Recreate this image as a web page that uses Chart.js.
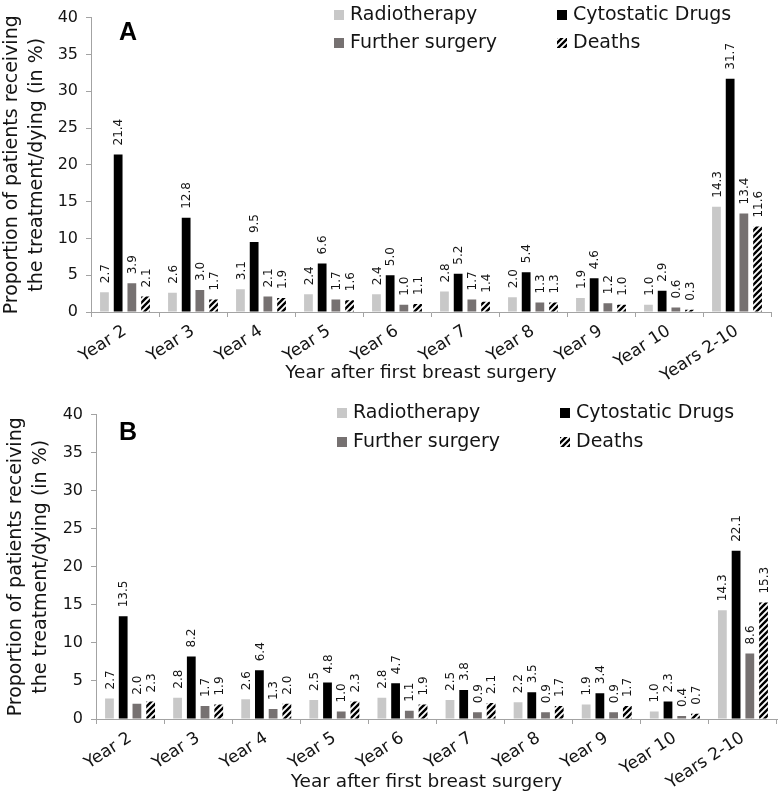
<!DOCTYPE html>
<html>
<head>
<meta charset="utf-8">
<script src="https://cdn.jsdelivr.net/npm/chart.js@4/dist/chart.umd.min.js"></script>
<style>
  html,body{margin:0;padding:0;background:#fff;}
  #wrap{position:relative;width:780px;height:794px;overflow:hidden;}
  .panel{position:absolute;left:0;width:780px;height:397px;}
</style>
</head>
<body>
<div id="wrap">
  <div class="panel" style="top:0"><canvas id="cA" width="780" height="397"></canvas></div>
  <div class="panel" style="top:397px"><canvas id="cB" width="780" height="397"></canvas></div>
</div>
<script>
// ---- data ----
const categories = ["Year 2","Year 3","Year 4","Year 5","Year 6","Year 7","Year 8","Year 9","Year 10","Years 2-10"];
const seriesNames = ["Radiotherapy","Cytostatic Drugs","Further surgery","Deaths"];

const radiotherapyA = [2.7, 2.6, 3.1, 2.4, 2.4, 2.8, 2.0, 1.9, 1.0, 14.3];
const cytostaticA   = [21.4, 12.8, 9.5, 6.6, 5.0, 5.2, 5.4, 4.6, 2.9, 31.7];
const surgeryA      = [3.9, 3.0, 2.1, 1.7, 1.0, 1.7, 1.3, 1.2, 0.6, 13.4];
const deathsA       = [2.1, 1.7, 1.9, 1.6, 1.1, 1.4, 1.3, 1.0, 0.3, 11.6];

const radiotherapyB = [2.7, 2.8, 2.6, 2.5, 2.8, 2.5, 2.2, 1.9, 1.0, 14.3];
const cytostaticB   = [13.5, 8.2, 6.4, 4.8, 4.7, 3.8, 3.5, 3.4, 2.3, 22.1];
const surgeryB      = [2.0, 1.7, 1.3, 1.0, 1.1, 0.9, 0.9, 0.9, 0.4, 8.6];
const deathsB       = [2.3, 1.9, 2.0, 2.3, 1.9, 2.1, 1.7, 1.7, 0.7, 15.3];

const yMin = 0, yMax = 40, yStep = 5;
const yTitle = ["Proportion of patients receiving", "the treatment/dying (in %)"];
const xTitle = "Year after first breast surgery";

// ---- styles ----
const FONT = '"DejaVu Sans", sans-serif';
const TXT = '#141414';
const AXIS = '#a3a3a3';
const COL_RADIO = '#c8c8c8';
const COL_CYTO = '#000000';
const COL_SURG = '#767171';

function hatchPattern(ctx){
  const c = document.createElement('canvas');
  c.width = 6; c.height = 6;
  const g = c.getContext('2d');
  g.fillStyle = '#fff'; g.fillRect(0,0,6,6);
  g.strokeStyle = '#000'; g.lineWidth = 2.4;
  g.beginPath();
  g.moveTo(-1,7); g.lineTo(7,-1);
  g.moveTo(-4,4); g.lineTo(4,-4);
  g.moveTo(2,10); g.lineTo(10,2);
  g.stroke();
  return ctx.createPattern(c,'repeat');
}

const valueLabels = {
  id:'valueLabels',
  afterDatasetsDraw(chart){
    const ctx = chart.ctx;
    ctx.save();
    ctx.font = '12px ' + FONT;
    ctx.fillStyle = TXT;
    chart.data.datasets.forEach((ds,i)=>{
      chart.getDatasetMeta(i).data.forEach((bar,j)=>{
        ctx.save();
        ctx.translate(bar.x + 1, bar.y - 9);
        ctx.rotate(-Math.PI/2);
        ctx.textAlign = 'left';
        ctx.textBaseline = 'middle';
        ctx.fillText(ds.data[j].toFixed(1), 0, 0);
        ctx.restore();
      });
    });
    ctx.restore();
  }
};

const gridLegend = {
  id:'gridLegend',
  afterDraw(chart, args, o){
    const ctx = chart.ctx;
    const ca = chart.chartArea;
    ctx.save();
    ctx.font = '19px ' + FONT;
    ctx.textBaseline = 'middle';
    ctx.textAlign = 'left';
    chart.data.datasets.forEach((ds,i)=>{
      const x = o.xs[i%2], y = o.ys[Math.floor(i/2)];
      ctx.fillStyle = ds.backgroundColor;
      ctx.fillRect(x, y-5, 10, 10);
      ctx.fillStyle = TXT;
      ctx.fillText(ds.label, x + o.gap, y);
    });
    // x axis title
    ctx.font = '18.5px ' + FONT;
    ctx.textAlign = 'center';
    ctx.fillText(o.xTitle, (ca.left + ca.right)/2 + o.xTitleDx, o.xTitleY);
    // panel letter
    ctx.font = 'bold 25px "Liberation Sans", Arial, sans-serif';
    ctx.fillStyle = '#000';
    ctx.fillText(o.letter, o.letterX, o.letterY);
    ctx.restore();
  }
};

function makeChart(id, data, geo){
  const canvas = document.getElementById(id);
  const ctx = canvas.getContext('2d');
  const hatch = hatchPattern(ctx);
  const colors = [COL_RADIO, COL_CYTO, COL_SURG, hatch];
  return new Chart(ctx, {
    type:'bar',
    data:{
      labels: categories,
      datasets: seriesNames.map((name,i)=>({
        label: name,
        data: data[i],
        backgroundColor: colors[i],
        borderWidth: 0,
        categoryPercentage: 0.806,
        barPercentage: 0.64
      }))
    },
    plugins:[valueLabels, gridLegend],
    options:{
      responsive:false,
      animation:false,
      devicePixelRatio:1,
      layout:{padding:{left:0, top:geo.top, right:780-geo.right, bottom:0}},
      plugins:{
        legend:{display:false},
        tooltip:{enabled:false},
        gridLegend:{xs:geo.legXs, ys:geo.legYs, gap:16, letter:geo.letter, letterX:128, letterY:geo.letterY,
                    xTitle:xTitle, xTitleDx:-10, xTitleY:geo.xTitleY}
      },
      scales:{
        x:{
          grid:{display:true, drawOnChartArea:false, drawTicks:true, tickLength:5, color:AXIS, offset:true},
          border:{display:true, color:AXIS, width:1},
          ticks:{font:{family:FONT, size:17}, color:TXT, minRotation:33, maxRotation:33, autoSkip:false, padding:geo.xPad},
          title:{display:false},
          afterFit(s){ s.height = 397 - geo.bottom; }
        },
        y:{
          min:yMin, max:yMax,
          grid:{display:true, drawOnChartArea:false, drawTicks:true, tickLength:5, color:AXIS},
          border:{display:true, color:AXIS, width:1},
          ticks:{stepSize:yStep, font:{family:FONT, size:16}, color:TXT, padding:8},
          title:{display:true, text:yTitle, font:{family:FONT, size:19, lineHeight:1.3}, color:TXT, padding:{top:geo.yTitlePad, bottom:0}},
          afterFit(s){ s.width = geo.left; }
        }
      }
    }
  });
}

makeChart('cA', [radiotherapyA, cytostaticA, surgeryA, deathsA], {
  left:91, right:771, top:9, bottom:312, xPad:4, xTitleY:373, yTitlePad:0,
  legXs:[334, 557], legYs:[15, 43], letter:'A', letterY:33
});
makeChart('cB', [radiotherapyB, cytostaticB, surgeryB, deathsB], {
  left:96, right:777, top:10, bottom:322, xPad:4, xTitleY:385, yTitlePad:4,
  legXs:[337, 560], legYs:[16, 45], letter:'B', letterY:36
});
</script>
</body>
</html>
